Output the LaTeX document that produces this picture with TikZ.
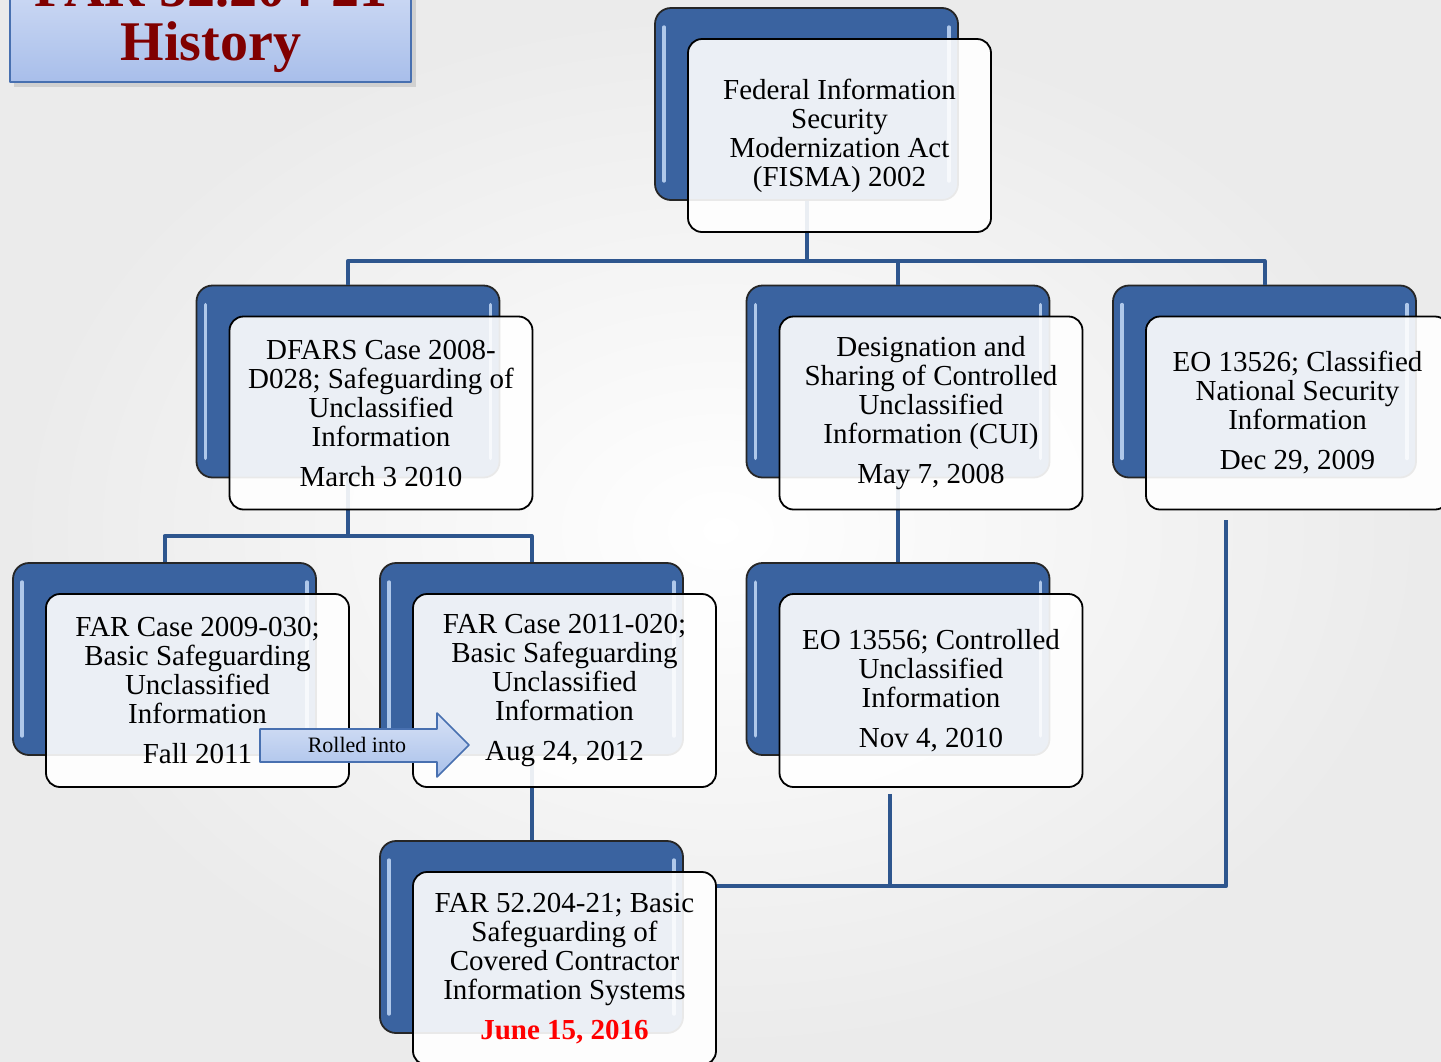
\documentclass[tikz,border=0pt]{standalone}
\usepackage{fontspec}
\setmainfont{Liberation Serif}
\definecolor{linkblue}{RGB}{46,86,142}
\definecolor{boxblue}{RGB}{58,99,160}
\definecolor{edgeblue}{RGB}{72,112,176}
\definecolor{shineblue}{RGB}{196,218,248}
\definecolor{titlered}{RGB}{128,0,0}
\begin{document}
\begin{tikzpicture}[x=.5pt,y=-.5pt,line join=round,
backbox/.style={draw=black!85,line width=.9pt,fill=boxblue,rounded corners=8pt,minimum width=151.5pt,minimum height=96pt,inner sep=0pt},
shine/.style={shineblue,opacity=.85,line width=1.8pt,line cap=round},
frontbox/.style={draw=black,line width=.9pt,fill=white,fill opacity=.9,text opacity=1,rounded corners=7pt,minimum width=151.5pt,minimum height=96.5pt,inner sep=0pt,align=center,font=\fontsize{14.5}{14.5}\selectfont},
conn/.style={linkblue,line width=2pt}]
\useasboundingbox (0,0) rectangle (1441,1061);
\clip (0,0) rectangle (1441,1061);
\shade[inner color=white,outer color=black!8] (0,0) rectangle (1441,1061);
% titre
\fill[black!25,opacity=.6] (14,-30) rectangle (416,87);
\shadedraw[top color={rgb,255:red,212;green,223;blue,246},bottom color={rgb,255:red,168;green,190;blue,234},draw=edgeblue,line width=1pt] (10,-30) rectangle (411,82);
\node[font=\fontsize{28}{28}\selectfont\bfseries,text=titlered,anchor=base] (title-top) at (211,6) {FAR 52.204-21};
\node[font=\fontsize{28}{28}\selectfont\bfseries,text=titlered,anchor=base] (title) at (211,60) {History};
% blocs du fond
\foreach \n/\x/\y in {fisma/839.5/135.5,dfars/381/413,cui/931/413,eoa/1297.5/413,fara/197.5/690.5,farb/564.5/690.5,eob/931/690.5,far52/564.5/968.5}{
  \node[backbox] (\n-b) at (\x-33,\y-31.5) {};
  \draw[shine] ([shift={(10,20)}]\n-b.north west)--([shift={(10,-20)}]\n-b.south west);
  \draw[shine] ([shift={(-10,20)}]\n-b.north east)--([shift={(-10,-20)}]\n-b.south east);
}
% liaisons
\draw[conn] (fisma-b.south)--++(0,60)-|(dfars-b.north);
\draw[conn] (fisma-b.south)--++(0,60)-|(cui-b.north);
\draw[conn] (fisma-b.south)--++(0,60)-|(eoa-b.north);
\draw[conn] (dfars-b.south)--++(0,57.5)-|(fara-b.north);
\draw[conn] (dfars-b.south)--++(0,57.5)-|(farb-b.north);
\draw[conn] (cui-b.south)--(eob-b.north);
\draw[conn] (farb-b.south)--(far52-b.north);
\node[frontbox] (fisma) at (839.5,135.5) {Federal Information\\Security\\Modernization Act\\(FISMA) 2002};
\node[frontbox] (dfars) at (381,413) {DFARS Case 2008-\\D028; Safeguarding of\\Unclassified\\Information\\[5.5pt]March 3 2010};
\node[frontbox] (cui) at (931,413) {Designation and\\Sharing of Controlled\\Unclassified\\Information (CUI)\\[5.5pt]May 7, 2008};
\node[frontbox] (eoa) at (1297.5,413) {EO 13526; Classified\\National Security\\Information\\[5.5pt]Dec 29, 2009};
\node[frontbox] (fara) at (197.5,690.5) {FAR Case 2009-030;\\Basic Safeguarding\\Unclassified\\Information\\[5.5pt]Fall 2011};
\node[frontbox] (farb) at (564.5,690.5) {FAR Case 2011-020;\\Basic Safeguarding\\Unclassified\\Information\\[5.5pt]Aug 24, 2012};
\node[frontbox] (eob) at (931,690.5) {EO 13556; Controlled\\Unclassified\\Information\\[5.5pt]Nov 4, 2010};
\node[frontbox] (far52) at (564.5,968.5) {FAR 52.204-21; Basic\\Safeguarding of\\Covered Contractor\\Information Systems\\[5.5pt]{\bfseries\color{red}June 15, 2016}};
\draw[conn] ([shift={(-41,6)}]eob.south)|-([shift={(0,15)}]far52.north east);
\draw[conn] ([shift={(-71.5,10)}]eoa.south)|-([shift={(0,15)}]far52.north east);
% fleche
\shadedraw[top color={rgb,255:red,216;green,226;blue,246},bottom color={rgb,255:red,168;green,192;blue,234},draw=edgeblue,line width=.8pt] (260,729)--(437,729)--(437,713)--(469,745)--(437,777)--(437,762)--(260,762)--cycle;
\node[font=\fontsize{11}{11}\selectfont] (rolled) at (357,745) {Rolled into};
\end{tikzpicture}
\end{document}
